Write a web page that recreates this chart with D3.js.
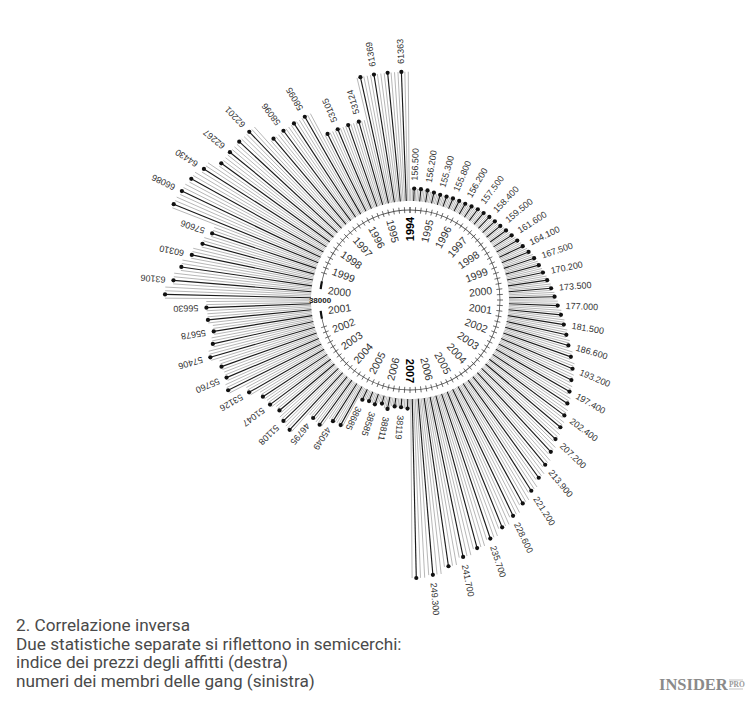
<!DOCTYPE html>
<html><head><meta charset="utf-8">
<script src="https://cdn.jsdelivr.net/npm/d3@7"></script>
<style>body{margin:0;background:#fff}svg{display:block}</style>
</head><body>
<svg id="chart" width="750" height="705"></svg>
<script>
// ---- data ----
const years = [1994,1995,1996,1997,1998,1999,2000,2001,2002,2003,2004,2005,2006,2007];

// rent price index (right half), one value per quarter
const rentQuarterly = [156.5,156.4,156.2,155.7,155.3,155.5,155.8,156.0,156.2,156.8,157.5,157.9,158.4,158.9,159.5,160.5,161.6,162.8,164.1,165.8,167.5,168.9,170.2,171.8,173.5,175.2,177.0,179.2,181.5,184.0,186.6,189.9,193.2,195.3,197.4,199.9,202.4,204.8,207.2,210.5,213.9,217.5,221.2,224.9,228.6,232.1,235.7,238.7,241.7,245.5,249.3,250.6];
const rentLabels = ["156.500","156.200","155.300","155.800","156.200","157.500","158.400","159.500","161.600","164.100","167.500","170.200","173.500","177.000","181.500","186.600","193.200","197.400","202.400","207.200","213.900","221.200","228.600","235.700","241.700","249.300"];

// gang members (left half), one value per quarter
const gangQuarterly = [61363,61360,61369,61369,53124,53120,53105,53110,58095,58090,58096,58090,62201,62250,62267,62270,64430,65550,66086,66500,57606,58800,60310,61890,63106,64590,56630,56500,55678,56300,57406,55900,55760,56500,53126,51300,51047,50330,51108,51490,46795,47060,45049,44940,38685,38390,38585,38050,38811,38100,38119,38300];
const gangLabels = ["61363","61369","53124","53105","58095","58096","62201","62267","64430","66086","57606","60310","63106","56630","55678","57406","55760","53126","51047","51108","46795","45049","38685","38585","38811","38119"];
const gangBaseLabel = "38000";

const captionLines = ["2. Correlazione inversa","Due statistiche separate si riflettono in semicerchi:","indice dei prezzi degli affitti (destra)","numeri dei membri delle gang (sinistra)"];

// ---- layout ----
const cx = 410, cy = 300;
const linesPerQuarter = 4;
const N = rentQuarterly.length * linesPerQuarter; // lines per half
const innerR = 99, ringR = 90, yearR = 71;

const svg = d3.select("#chart");
const g = svg.append("g").attr("transform", `translate(${cx},${cy})`);

const angleScale = d3.scaleLinear().domain([0, N]).range([0, Math.PI]);
const rentR = d3.scaleLinear().domain([150, 250]).range([100, 277]);
const gangR = d3.scaleLinear().domain([38000, 66086]).range([107, 252.8]);
const deg = a => a * 180 / Math.PI;

function buildSide(vals, labels, rScale, side) {
  const items = d3.range(N).map(i => {
    const q = Math.floor(i / linesPerQuarter);
    const a = angleScale(i + 0.5);
    const theta = side === "right" ? a : 2 * Math.PI - a;
    const black = i % linesPerQuarter === 2;
    const labelIdx = (i % (2 * linesPerQuarter) === 2) ? (i - 2) / (2 * linesPerQuarter) : -1;
    return {i, q, theta, value: vals[q], black, label: labelIdx >= 0 ? labels[labelIdx] : null};
  });
  const grp = g.append("g").attr("class", side);
  grp.selectAll("line.bar").data(items.filter(d => !d.black).concat(items.filter(d => d.black)))
    .join("line").attr("class", "bar")
    .attr("x1", d => d3.pointRadial(d.theta, innerR)[0])
    .attr("y1", d => d3.pointRadial(d.theta, innerR)[1])
    .attr("x2", d => d3.pointRadial(d.theta, rScale(d.value))[0])
    .attr("y2", d => d3.pointRadial(d.theta, rScale(d.value))[1])
    .attr("stroke", d => d.black ? "#1a1a1a" : "#a4a4a4")
    .attr("stroke-width", d => d.black ? 1.15 : 0.8);
  grp.selectAll("circle").data(items.filter(d => d.black))
    .join("circle")
    .attr("cx", d => d3.pointRadial(d.theta, rScale(d.value))[0])
    .attr("cy", d => d3.pointRadial(d.theta, rScale(d.value))[1])
    .attr("r", 2.1).attr("fill", "#111");
  grp.selectAll("text").data(items.filter(d => d.label))
    .join("text")
    .attr("transform", d => {
      const p = d3.pointRadial(d.theta, rScale(d.value) + 8);
      return `translate(${p[0]},${p[1]}) rotate(${deg(d.theta) - 90})`;
    })
    .attr("text-anchor", "start").attr("dominant-baseline", "central")
    .attr("font-family", "'Liberation Sans Narrow','Arial Narrow','Liberation Sans',sans-serif")
    .attr("font-size", 9).attr("fill", "#333")
    .text(d => d.label);
}
buildSide(rentQuarterly, rentLabels, rentR, "right");
buildSide(gangQuarterly, gangLabels, gangR, "left");

// ---- ring with quarter ticks ----
const ring = g.append("g");
const arc = d3.arc().innerRadius(ringR - 0.4).outerRadius(ringR + 0.4);
const toRad = d => d * Math.PI / 180;
[[0, 180], [180, 258], [282, 360]].forEach(([s, e]) => {
  ring.append("path").attr("d", arc({startAngle: toRad(s), endAngle: toRad(e)})).attr("fill", "#555");
});
const thick = d3.arc().innerRadius(ringR - 1.1).outerRadius(ringR + 1.1);
[[258, 263], [277, 282]].forEach(([s, e]) => {
  ring.append("path").attr("d", thick({startAngle: toRad(s), endAngle: toRad(e)})).attr("fill", "#111");
});
const tickAngles = d3.range(0, 2 * rentQuarterly.length + 1).map(k => k * Math.PI / rentQuarterly.length)
  .filter(t => { const dd = deg(t); return !(dd > 256 && dd < 284); });
ring.selectAll("line").data(tickAngles).join("line")
  .attr("x1", t => d3.pointRadial(t, ringR - 3)[0]).attr("y1", t => d3.pointRadial(t, ringR - 3)[1])
  .attr("x2", t => d3.pointRadial(t, ringR + 3)[0]).attr("y2", t => d3.pointRadial(t, ringR + 3)[1])
  .attr("stroke", "#444").attr("stroke-width", 0.8);
g.append("text").attr("x", d3.pointRadial(3 * Math.PI / 2, ringR)[0]).attr("y", 0)
  .attr("text-anchor", "middle").attr("dominant-baseline", "central")
  .attr("font-family", "'Liberation Sans Narrow','Liberation Sans',sans-serif")
  .attr("font-size", 8).attr("font-weight", "bold").attr("fill", "#222").text(gangBaseLabel);

// ---- year labels (radial: outward on the right, inward on the left) ----
const yearStep = Math.PI / (years.length - 1);
const yearItems = [];
years.forEach((y, k) => {
  const th = k * yearStep;
  yearItems.push({y, theta: th, rot: deg(th) - 90, bold: k === 0 || k === years.length - 1});
  if (k > 0 && k < years.length - 1) {
    const tl = 2 * Math.PI - th;
    yearItems.push({y, theta: tl, rot: deg(tl) - 270, bold: false});
  }
});
g.append("g").selectAll("text").data(yearItems).join("text")
  .attr("transform", d => {
    const p = d3.pointRadial(d.theta, yearR);
    return `translate(${p[0]},${p[1]}) rotate(${d.rot})`;
  })
  .attr("text-anchor", "middle").attr("dominant-baseline", "central")
  .attr("font-family", "'Liberation Sans',Arial,sans-serif")
  .attr("font-size", d => d.bold ? 11 : 10.5)
  .attr("font-weight", d => d.bold ? "bold" : "normal")
  .attr("fill", d => d.bold ? "#000" : "#333")
  .text(d => d.y);

// ---- caption ----
svg.append("g").selectAll("text").data(captionLines).join("text")
  .attr("x", 16).attr("y", (d, i) => 631 + i * 18.7)
  .attr("font-family", "Roboto,'Open Sans',sans-serif").attr("font-size", 17.2)
  .attr("fill", "#4a4a4a").text(d => d);

// ---- logo ----
const logo = svg.append("g").attr("transform", "translate(659,690)");
logo.append("text").attr("x", 0).attr("y", 0)
  .attr("font-family", "'Liberation Serif','DejaVu Serif',serif").attr("font-weight", "bold")
  .attr("font-size", 16.5).attr("fill", "#8a8a8a").text("INSIDER");
logo.append("text").attr("x", 70).attr("y", -3)
  .attr("font-family", "'Liberation Serif',serif").attr("font-weight", "bold")
  .attr("font-size", 7.5).attr("fill", "#9a9a9a").text("PRO");
logo.append("line").attr("x1", 70).attr("x2", 84).attr("y1", -10).attr("y2", -10).attr("stroke", "#aaa").attr("stroke-width", 0.7);
logo.append("line").attr("x1", 70).attr("x2", 84).attr("y1", -1).attr("y2", -1).attr("stroke", "#aaa").attr("stroke-width", 0.7);
</script>
</body></html>
